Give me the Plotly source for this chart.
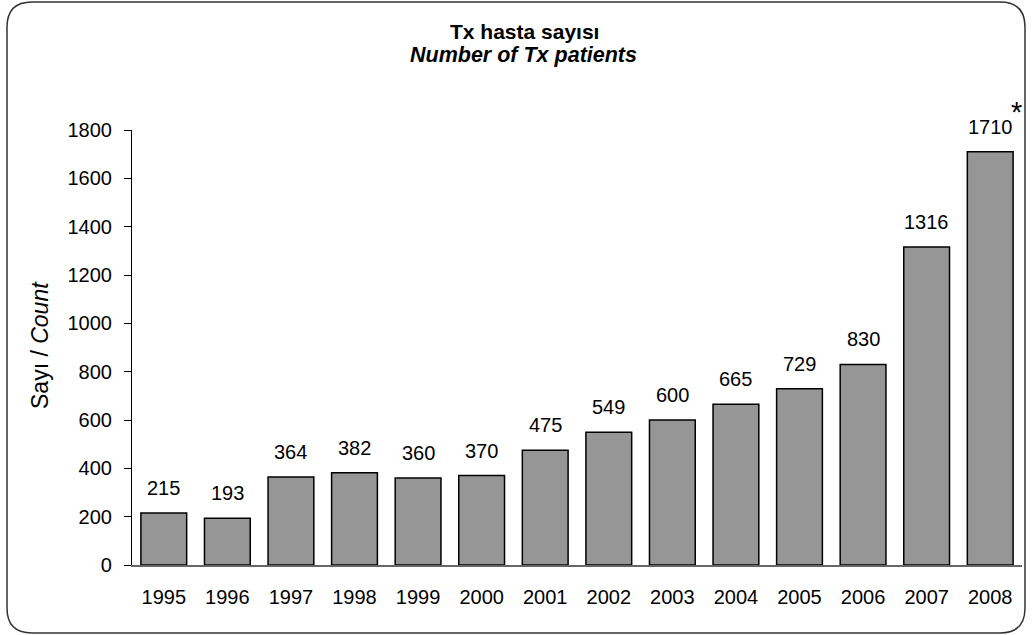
import plotly.graph_objects as go

years = ["1995", "1996", "1997", "1998", "1999", "2000", "2001", "2002",
         "2003", "2004", "2005", "2006", "2007", "2008"]
counts = [215, 193, 364, 382, 360, 370, 475, 549, 600, 665, 729, 830, 1316, 1710]
y_ticks = [0, 200, 400, 600, 800, 1000, 1200, 1400, 1600, 1800]

W, H = 1032, 635
L, R, T, B = 132, 10, 130, 70
pw, ph = W - L - R, H - T - B

FONT = "Liberation Sans, Arial, sans-serif"

fig = go.Figure()
fig.add_trace(go.Bar(
    x=years, y=counts,
    marker=dict(color="#969696", line=dict(color="black", width=1.5)),
    hoverinfo="x+y",
))

for i, v in enumerate(counts):
    fig.add_annotation(x=i, y=v, text=str(v), showarrow=False,
                       yanchor="bottom", yshift=12,
                       font=dict(size=20, color="black", family=FONT))

fig.add_annotation(x=len(counts) - 1, y=counts[-1], text="*", showarrow=False,
                   yanchor="bottom", xshift=26, yshift=22,
                   font=dict(size=29, color="black", family=FONT))


def px_to_paper_x(px):
    return (px - L) / pw


def px_to_paper_y(py):
    return (H - B - py) / ph


fig.add_annotation(xref="paper", yref="paper", x=px_to_paper_x(524), y=px_to_paper_y(32),
                   text="<b>Tx hasta sayısı</b>", showarrow=False,
                   xanchor="center", yanchor="middle",
                   font=dict(size=21, color="black", family=FONT))
fig.add_annotation(xref="paper", yref="paper", x=px_to_paper_x(523), y=px_to_paper_y(55),
                   text="<b><i>Number of Tx patients</i></b>", showarrow=False,
                   xanchor="center", yanchor="middle",
                   font=dict(size=21.5, color="black", family=FONT))
fig.add_annotation(xref="paper", yref="paper", x=px_to_paper_x(40), y=px_to_paper_y(345),
                   text="Sayı / <i>Count</i>", showarrow=False, textangle=-90,
                   xanchor="center", yanchor="middle",
                   font=dict(size=23, color="black", family=FONT))

# rounded border
x0, x1 = px_to_paper_x(7), px_to_paper_x(1025)
y0, y1 = px_to_paper_y(633), px_to_paper_y(2)
rx, ry = 25 / pw, 25 / ph
path = (f"M {x0+rx} {y1} L {x1-rx} {y1} Q {x1} {y1} {x1} {y1-ry} "
        f"L {x1} {y0+ry} Q {x1} {y0} {x1-rx} {y0} "
        f"L {x0+rx} {y0} Q {x0} {y0} {x0} {y0+ry} "
        f"L {x0} {y1-ry} Q {x0} {y1} {x0+rx} {y1} Z")
fig.add_shape(type="path", xref="paper", yref="paper", path=path,
              line=dict(color="#333333", width=1.5), layer="above")

fig.update_layout(
    width=W, height=H,
    margin=dict(l=L, r=R, t=T, b=B, pad=0),
    plot_bgcolor="white", paper_bgcolor="white",
    bargap=0.28, showlegend=False,
    font=dict(family=FONT, color="black", size=20),
    xaxis=dict(type="category", range=[-0.5, len(years) - 0.5],
               showgrid=False, showline=True,
               linecolor="#666666", linewidth=1.5, ticks="",
               tickfont=dict(size=20, family=FONT), ticklabelstandoff=13),
    yaxis=dict(range=[0, 1800], tickvals=y_ticks, showgrid=False,
               zeroline=False, showline=True, linecolor="black", linewidth=1.2,
               ticks="outside", ticklen=7, tickcolor="black",
               tickfont=dict(size=20, family=FONT), ticklabelstandoff=8),
)

fig.write_html("out.html", config={"displayModeBar": False},
               post_script="document.body.style.margin='0';document.body.style.overflow='hidden';")
